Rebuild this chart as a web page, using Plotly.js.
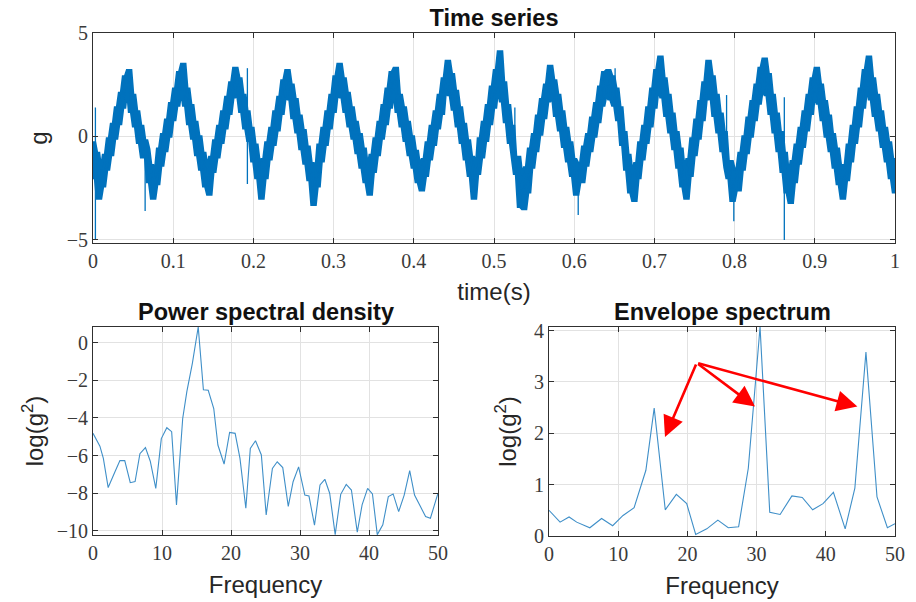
<!DOCTYPE html>
<html><head><meta charset="utf-8">
<script src="https://cdn.plot.ly/plotly-3.0.1.min.js"></script>
<style>html,body{margin:0;padding:0;background:#fff}#chart{width:916px;height:602px}</style>
</head><body><div id="chart"></div>
<script>
const accel = [
 -0.3, -2.0, -0.8, -3.0, -1.6,
 -2.4, -0.9, -1.6, -0.1, -0.9, 0.6, -0.1, 1.4, 0.6, 2.1, 1.4, 2.9, 2.3,
 3.2,
 1.2, 2.0, 0.5, 1.2, -0.3, 0.5, -1.0, -0.2, -0.6, -2.2, -1.4, -3.0,
 -1.6, -2.3, -0.6, -1.4, 0.1, -0.7, 0.8, 0.0, 1.6, 0.8, 2.3, 1.5, 3.1, 2.2,
 3.5, 1.5, 2.3, 0.6, 1.5, -0.1, 0.7, -0.9, 0.0, -1.6, -0.8, -2.4, -1.5,
 -2.8, -1.0, -1.7, -0.2, -1.0, 0.5, -0.3, 1.2, 0.4, 1.9, 1.1, 2.6, 1.9, 3.3,
 2.0, 2.8, 1.2, 2.0, 0.4, 1.2, -0.2, 0.4, -1.2, -0.4, -2.0, -1.2, -3.0,
 -1.1, -2.0, -0.3, -1.1, 0.4, -0.4, 1.2, 0.3, 1.9, 1.1, 2.7, 1.9, 3.2,
 1.8, 2.5, 0.9, 1.8, 0.2, 1.0, -0.6, 0.3, -1.3, -0.5, -2.1, -1.3, -3.3,
 -1.6, -2.4, -0.4, -1.2, 0.4, -0.4, 1.2, 0.4, 2.0, 1.2, 2.9, 2.1, 3.5,
 1.9, 2.8, 1.2, 2.1, 0.5, 1.4, -0.1, 0.7, -0.8, 0.1, -1.5, -0.6, -2.2, -1.5,
 -2.8, -0.9, -1.7, -0.1, -0.9, 0.7, -0.1, 1.5, 0.6, 2.3, 1.4, 3.1, 2.2,
 3.3, 1.2, 2.0, 0.5, 1.4, -0.2, 0.7, -0.9, 0.0, -1.5, -0.7, -2.2, -1.4, -2.6,
 -1.1, -1.9, -0.3, -1.1, 0.5, -0.4, 1.2, 0.4, 2.0, 1.1, 2.8, 2.3, 3.65,
 2.0, 3.0, 1.3, 2.2, 0.5, 1.4, -0.3, 0.6, -1.1, -0.2, -1.9, -1.0, -3.0,
 -1.5, -1.8, -0.1, -1.0, 0.7, -0.2, 1.5, 0.6, 2.4, 1.4, 3.2, 2.3, 4.1,
 1.7, 2.6, 0.7, 1.5, -0.3, 0.5, -1.2, -1.8, -1.0, -3.4, -1.9, -3.5,
 -1.5, -2.7, -0.6, -1.5, 0.1, -0.7, 1.0, 0.1, 1.8, 0.9, 2.5, 1.7, 3.4,
 2.0, 2.7, 1.0, 2.0, 0.3, 1.2, -0.5, 0.4, -1.2, -0.3, -1.9, -1.1, -2.8, -1.7,
 -1.3, -2.2, -0.5, -1.4, 0.1, -0.7, 0.9, 0.0, 1.6, 0.7, 2.4, 1.5, 3.1, 2.0, 3.2, 1.8, 2.9, 1.5, 2.3,
 0.8, 1.4, -0.4, 0.2, -1.6, -0.9, -2.7, -1.8, -3.1,
 -1.3, -2.0, -0.3, -1.1, 0.5, -0.3, 1.4, 0.5, 2.3, 1.4, 3.2, 2.4, 3.85,
 1.9, 2.8, 1.0, 2.0, 0.2, 1.1, -0.6, 0.2, -1.5, -0.6, -2.4, -1.6, -3.0,
 -1.1, -1.9, -0.1, -0.9, 0.8, -0.1, 1.7, 0.8, 2.6, 1.8, 3.65,
 2.0, 2.9, 1.0, 2.0, 0.2, 1.1, -0.7, 0.2, -1.5, -2.0, -1.2, -3.1, -2.2,
 -1.6, -2.6, -0.8, -1.6, 0.0, -0.8, 0.9, 0.0, 1.7, 0.8, 2.5, 1.6, 3.3, 2.3, 3.75,
 2.0, 3.0, 1.1, 2.0, 0.2, 1.1, -0.7, 0.2, -1.7, -0.8, -2.7, -1.9, -3.2,
 -1.2, -2.2, -0.4, -1.3, 0.4, -0.5, 1.2, 0.3, 2.0, 1.1, 2.8, 2.1, 3.3,
 1.6, 2.5, 0.8, 1.7, 0.0, 1.0, -0.7, 0.1, -1.5, -0.6, -2.3, -1.4, -3.0,
 -1.4, -2.1, -0.4, -1.2, 0.5, -0.3, 1.4, 0.5, 2.3, 1.4, 3.2, 2.4, 3.85,
 1.8, 2.8, 1.0, 2.0, 0.3, 1.2, -0.5, 0.4, -1.2, -0.3, -2.0, -1.1, -2.7
];
const duration = 1; // seconds
const time = accel.map((_, i) => duration * i / (accel.length - 1));

// Isolated impulsive spikes in the time series: time, lowest value, highest value
const spikeTime = [0.003, 0.065, 0.1925, 0.526, 0.605, 0.651, 0.79, 0.799, 0.862];
const spikeLow  = [-5.0, -3.6, -2.3, -0.8, -3.8, 1.6, -1.0, -4.1, -5.0];
const spikeHigh = [1.4, -1.0, 3.3, 1.4, -2.4, 3.3, 2.0, -2.6, 1.9];

// Power spectral density
const psdFreq = [0, 1.0, 1.5, 2.2, 3.2, 3.9, 4.6, 5.4, 6.1, 6.8, 7.6, 8.3, 9.1, 9.9, 10.7, 11.4, 12.1, 13.0, 13.6, 14.4,
 15.25, 16.0, 16.7, 17.5, 18.1, 19.0, 19.8, 20.6, 21.3, 22.15, 22.8, 23.55, 24.4, 25.1, 26.0, 26.7, 27.5, 28.3, 29.0, 29.8,
 30.7, 31.3, 32.1, 32.9, 33.6, 34.3, 35.1, 35.9, 36.7, 37.45, 38.3, 39.0, 39.8, 40.5, 41.2, 42.0, 42.8, 43.5, 44.3, 45.1,
 45.9, 46.6, 47.4, 48.2, 48.9, 50];
const psdLog = [-4.82, -5.5, -6.15, -7.7, -6.85, -6.27, -6.27, -7.44, -7.38, -5.9, -5.58, -6.3, -7.74, -5.1, -4.52, -4.73, -8.62, -4.03, -2.6, -1.1,
 0.83, -2.5, -2.53, -3.5, -5.44, -6.45, -4.77, -4.82, -6.15, -8.8, -5.62, -5.21, -5.97, -9.15, -6.68, -6.33, -6.64, -8.7, -7.39, -6.6,
 -8.1, -8.15, -9.7, -7.56, -7.26, -8.0, -10.2, -8.06, -7.53, -7.83, -10.07, -8.62, -7.74, -8.04, -10.2, -9.68, -8.18, -8.04, -8.98, -8.1,
 -6.8, -8.1, -8.67, -9.24, -9.33, -8.0];

// Envelope spectrum
const envFreq = [0, 1.6, 2.9, 4.0, 5.9, 7.6, 9.2, 10.7, 12.3, 13.1, 14.0, 15.2, 16.8, 18.4, 19.9, 21.2, 22.8, 24.4, 25.9, 27.4,
 28.8, 30.5, 31.9, 33.4, 35.1, 36.6, 38.1, 39.6, 41.1, 42.8, 44.2, 45.8, 47.4, 48.9, 50];
const envLog = [0.5, 0.27, 0.37, 0.27, 0.16, 0.34, 0.2, 0.4, 0.55, 0.89, 1.28, 2.49, 0.51, 0.81, 0.63, 0.03, 0.14, 0.31, 0.16, 0.18,
 1.32, 4.07, 0.46, 0.42, 0.78, 0.75, 0.51, 0.63, 0.85, 0.14, 0.93, 3.58, 0.76, 0.16, 0.24];

// Arrow annotation (tail and heads, in envelope-spectrum data units)
const arrowTail = [21.34, 3.37];
const arrowHeadsX = [16.76, 29.77, 44.56];
const arrowHeadsY = [1.93, 2.52, 2.52];

const timeTicks = [0, 0.1, 0.2, 0.3, 0.4, 0.5, 0.6, 0.7, 0.8, 0.9, 1];
const gTicks = [-5, 0, 5];
const freqTicks = [0, 10, 20, 30, 40, 50];
const psdTicks = [-10, -8, -6, -4, -2, 0];
const envTicks = [0, 1, 2, 3, 4];

// The dense signal trace is drawn as the band its samples sweep (local min/max over neighbouring samples)
const halfWin = 1;
const bandHigh = accel.map((_, i) => Math.max(...accel.slice(Math.max(0, i - halfWin), i + halfWin + 1)));
const bandLow = accel.map((_, i) => Math.min(...accel.slice(Math.max(0, i - halfWin), i + halfWin + 1)));
const spikeX = [], spikeY = [];
spikeTime.forEach((t, i) => { spikeX.push(t, t, null); spikeY.push(spikeLow[i], spikeHigh[i], null); });

const tickFont = {family: 'Liberation Serif, DejaVu Serif, serif', size: 20, color: '#3a3a3a'};
const labFont = {family: 'Liberation Sans, Arial, sans-serif', size: 24, color: '#262626'};
const ttlFont = {family: 'Liberation Sans, Arial, sans-serif', size: 23.5, color: '#111', weight: 'bold'};

function ax(extra) {
  return Object.assign({
    showline: true, mirror: 'ticks', linecolor: '#303030', linewidth: 1,
    ticks: 'inside', ticklen: 5, tickcolor: '#303030', tickwidth: 1,
    showgrid: true, gridcolor: '#e2e2e2', gridwidth: 1, zeroline: false,
    tickfont: tickFont, tickmode: 'array'
  }, extra);
}

const blue = '#0072BD';
const traces = [
  {x: time, y: bandHigh, xaxis: 'x', yaxis: 'y', type: 'scatter', mode: 'lines',
   line: {color: blue, width: 2.6}, hoverinfo: 'skip'},
  {x: time, y: bandLow, xaxis: 'x', yaxis: 'y', type: 'scatter', mode: 'lines', fill: 'tonexty',
   fillcolor: blue, line: {color: blue, width: 2.6}, hoverinfo: 'skip'},
  {x: time, y: accel, xaxis: 'x', yaxis: 'y', type: 'scatter', mode: 'lines',
   line: {color: blue, width: 1.2}, hoverinfo: 'skip'},
  {x: spikeX, y: spikeY, xaxis: 'x', yaxis: 'y', type: 'scatter', mode: 'lines',
   line: {color: blue, width: 1.3}, connectgaps: false, hoverinfo: 'skip'},
  {x: psdFreq, y: psdLog, xaxis: 'x2', yaxis: 'y2', type: 'scatter', mode: 'lines',
   line: {color: '#3f8fc8', width: 1.1}},
  {x: envFreq, y: envLog, xaxis: 'x3', yaxis: 'y3', type: 'scatter', mode: 'lines',
   line: {color: '#3f8fc8', width: 1.1}}
];

const annotations = [
  {text: 'Power spectral density', xref: 'paper', yref: 'paper', x: 266/916, y: 1 - 312/602,
   xanchor: 'center', yanchor: 'middle', showarrow: false, font: ttlFont},
  {text: 'Envelope spectrum', xref: 'paper', yref: 'paper', x: 722/916, y: 1 - 312/602,
   xanchor: 'center', yanchor: 'middle', showarrow: false, font: ttlFont}
];
arrowHeadsX.forEach((hx, i) => {
  annotations.push({xref: 'x3', yref: 'y3', axref: 'x3', ayref: 'y3',
    x: hx, y: arrowHeadsY[i], ax: arrowTail[0], ay: arrowTail[1], text: '',
    showarrow: true, arrowhead: 2, arrowsize: 1.6, arrowwidth: 2.6, arrowcolor: '#ff0000'});
});

const layout = {
  width: 916, height: 602, margin: {l: 0, r: 0, t: 0, b: 0},
  paper_bgcolor: '#fff', plot_bgcolor: '#fff', showlegend: false,
  title: {text: 'Time series', x: 494/916, y: 1 - 18/602, xanchor: 'center', yanchor: 'middle', font: ttlFont},
  xaxis: ax({domain: [93/916, 895/916], anchor: 'y', range: [0, 1], tickvals: timeTicks,
    title: {text: 'time(s)', font: labFont, standoff: 12}}),
  yaxis: ax({domain: [1 - 243/602, 1 - 33/602], anchor: 'x', range: [-5.15, 5], tickvals: gTicks,
    title: {text: 'g', font: labFont, standoff: 12}}),
  xaxis2: ax({domain: [93/916, 438/916], anchor: 'y2', range: [0, 50], tickvals: freqTicks,
    title: {text: 'Frequency', font: labFont, standoff: 13}}),
  yaxis2: ax({domain: [1 - 535/602, 1 - 327/602], anchor: 'x2', range: [-10.22, 0.83], tickvals: psdTicks,
    title: {text: 'log(g<sup>2</sup>)', font: labFont, standoff: 6}}),
  xaxis3: ax({domain: [549/916, 895/916], anchor: 'y3', range: [0, 50], tickvals: freqTicks,
    title: {text: 'Frequency', font: labFont, standoff: 13}}),
  yaxis3: ax({domain: [1 - 536/602, 1 - 327/602], anchor: 'x3', range: [0, 4.07], tickvals: envTicks,
    title: {text: 'log(g<sup>2</sup>)', font: labFont, standoff: 10}}),
  annotations: annotations
};

Plotly.newPlot('chart', traces, layout, {displayModeBar: false, staticPlot: true});
</script>
</body></html>
